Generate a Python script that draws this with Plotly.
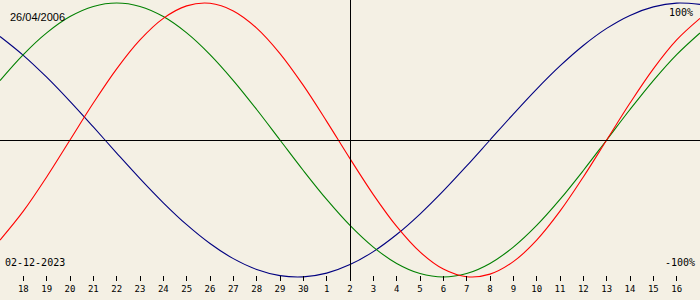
import plotly.graph_objects as go

# Day offsets from the centre date (02-12-2023), -15 .. 15
day_offsets = list(range(-15, 16))

# Biorhythm values read at each day (fraction of 100%)
physical = [-0.7308, -0.5196, -0.2698, 0.0, 0.2698, 0.5196, 0.7308, 0.8880, 0.9791, 0.9977,
            0.9423, 0.8170, 0.6310, 0.3984, 0.1362, -0.1362, -0.3984, -0.6310, -0.8170, -0.9423,
            -0.9977, -0.9791, -0.8880, -0.7308, -0.5196, -0.2698, 0.0, 0.2698, 0.5196, 0.7308, 0.8880]
emotional = [0.4339, 0.6235, 0.7818, 0.9010, 0.9749, 1.0, 0.9749, 0.9010, 0.7818, 0.6235,
             0.4339, 0.2225, 0.0, -0.2225, -0.4339, -0.6235, -0.7818, -0.9010, -0.9749, -1.0,
             -0.9749, -0.9010, -0.7818, -0.6235, -0.4339, -0.2225, 0.0, 0.2225, 0.4339, 0.6235, 0.7818]
intellectual = [0.7557, 0.6182, 0.4582, 0.2817, 0.0951, -0.0951, -0.2817, -0.4582, -0.6182, -0.7557,
                -0.8660, -0.9450, -0.9898, -0.9989, -0.9718, -0.9096, -0.8146, -0.6901, -0.5406, -0.3717,
                -0.1893, 0.0, 0.1893, 0.3717, 0.5406, 0.6901, 0.8146, 0.9096, 0.9718, 0.9989, 0.9898]

# Tick positions (day offsets) and their day-of-month labels
tick_offsets = list(range(-14, 15))
tick_labels = ["18", "19", "20", "21", "22", "23", "24", "25", "26", "27", "28", "29", "30",
               "1", "2", "3", "4", "5", "6", "7", "8", "9", "10", "11", "12", "13", "14", "15", "16"]

birth_label = "26/04/2006"
date_label = "02-12-2023"

BG = "#f4f0e4"
RED = "#ff0000"
GREEN = "#008000"
BLUE = "#000080"

fig = go.Figure()
for vals, col in [(intellectual, BLUE), (emotional, GREEN), (physical, RED)]:
    fig.add_trace(go.Scatter(x=day_offsets, y=vals, mode="lines",
                             line=dict(color=col, width=1.1, shape="spline"),
                             hoverinfo="skip", showlegend=False))

PX_X = 30 / 700.0      # day units per pixel
PX_Y = 1 / 137.0       # value units per pixel
Y_TOP = 140 * PX_Y
Y_BOT = -160 * PX_Y

fig.update_layout(
    width=700, height=300,
    margin=dict(l=0, r=0, t=0, b=0),
    paper_bgcolor=BG, plot_bgcolor=BG,
    xaxis=dict(range=[-15, 15], tickmode="array", tickvals=tick_offsets, ticktext=tick_labels,
               ticks="outside", ticklen=5, tickwidth=1, tickcolor="black",
               showgrid=False, zeroline=False, showline=False,
               anchor="free", position=1 - 275 / 300.0,
               tickfont=dict(family="DejaVu Sans Mono", size=9, color="black")),
    yaxis=dict(range=[Y_BOT, Y_TOP], showgrid=False, zeroline=False, showticklabels=False,
               showline=False, ticks=""),
    shapes=[
        dict(type="line", xref="x", yref="y", x0=-15, x1=15, y0=-0.5 * PX_Y, y1=-0.5 * PX_Y,
             line=dict(color="black", width=1)),
        dict(type="line", xref="x", yref="y", x0=0.5 * PX_X, x1=0.5 * PX_X,
             y0=Y_TOP, y1=-138 * PX_Y,
             line=dict(color="black", width=1)),
    ],
    annotations=[
        dict(text=birth_label, xref="paper", yref="paper", x=8 / 700, y=1 - 17 / 300,
             xanchor="left", yanchor="middle", showarrow=False,
             font=dict(family="Liberation Sans", size=11, color="black")),
        dict(text=date_label, xref="paper", yref="paper", x=3 / 700, y=1 - 262 / 300,
             xanchor="left", yanchor="middle", showarrow=False,
             font=dict(family="DejaVu Sans Mono", size=10, color="black")),
        dict(text="100%", xref="paper", yref="paper", x=695 / 700, y=1 - 12 / 300,
             xanchor="right", yanchor="middle", showarrow=False,
             font=dict(family="DejaVu Sans Mono", size=10, color="black")),
        dict(text="-100%", xref="paper", yref="paper", x=697 / 700, y=1 - 262 / 300,
             xanchor="right", yanchor="middle", showarrow=False,
             font=dict(family="DejaVu Sans Mono", size=10, color="black")),
    ],
)

fig.write_html("out.html")
